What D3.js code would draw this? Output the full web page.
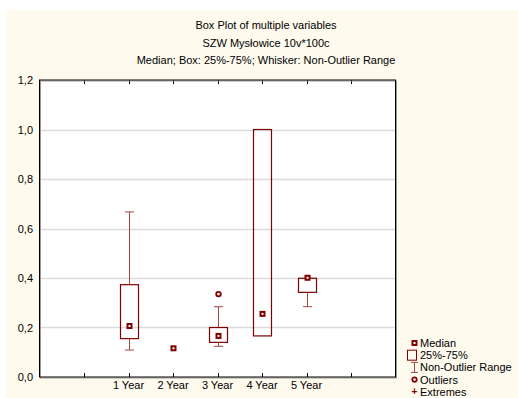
<!DOCTYPE html>
<html>
<head>
<meta charset="utf-8">
<script src="https://cdn.jsdelivr.net/npm/d3@7"></script>
<style>
  body { margin: 0; background: #fff; }
  svg { display: block; }
  text { font-family: "Liberation Sans", Arial, sans-serif; fill: #000; }
</style>
</head>
<body>
<div id="chart"></div>
<script>
const categories = ["1 Year", "2 Year", "3 Year", "4 Year", "5 Year"];
const medians = [0.206, 0.116, 0.166, 0.255, 0.401];
const q1 = [0.155, 0.116, 0.140, 0.166, 0.342];
const q3 = [0.373, 0.116, 0.200, 1.000, 0.399];
const whiskerLow = [0.109, 0.116, 0.124, 0.166, 0.284];
const whiskerHigh = [0.667, 0.116, 0.284, 1.000, 0.399];
const outliers = [[], [], [0.335], [], []];
const yTicks = [0, 0.2, 0.4, 0.6, 0.8, 1.0, 1.2];
const titles = ["Box Plot of multiple variables", "SZW Mysłowice 10v*100c",
                "Median; Box: 25%-75%; Whisker: Non-Outlier Range"];
const legendItems = ["Median", "25%-75%", "Non-Outlier Range", "Outliers", "Extremes"];

const width = 518, height = 398;
const red = "#800000";
const margin = { top: 80, left: 39.5, right: 395.5, bottom: 377 };

const svg = d3.select("#chart").append("svg")
    .attr("width", width)
    .attr("height", height);

// cream background
svg.append("rect")
    .attr("x", 6).attr("y", 10)
    .attr("width", width - 6).attr("height", height - 10)
    .attr("fill", "#fefaee");

svg.append("rect")
    .attr("x", margin.left).attr("y", margin.top)
    .attr("width", margin.right - margin.left)
    .attr("height", margin.bottom - margin.top)
    .attr("fill", "#fff");

// titles
svg.selectAll(".title")
    .data(titles)
    .enter()
    .append("text")
    .attr("class", "title")
    .attr("x", 266)
    .attr("y", (d, i) => 29 + i * 17.5)
    .attr("text-anchor", "middle")
    .attr("font-size", "11px")
    .text(d => d);

const x = d3.scaleLinear().domain([0, 8]).range([margin.left, margin.right]);
const y = d3.scaleLinear().domain([0, 1.2]).range([margin.bottom, margin.top]);
const fmt = v => d3.format(".1f")(v).replace(".", ",");

// grid
svg.selectAll(".grid")
    .data(yTicks.slice(1, -1))
    .enter()
    .append("line")
    .attr("x1", margin.left).attr("x2", margin.right)
    .attr("y1", d => Math.round(y(d)) + 0.5)
    .attr("y2", d => Math.round(y(d)) + 0.5)
    .attr("stroke", "#dcdcdc")
    .attr("stroke-width", 1.5);

// y labels
svg.selectAll(".ylab")
    .data(yTicks)
    .enter()
    .append("text")
    .attr("x", 33)
    .attr("y", d => y(d) + 4)
    .attr("text-anchor", "end")
    .attr("font-size", "11px")
    .text(d => fmt(d));

// x ticks top and bottom, inside
const xTicks = d3.range(1, 8);
svg.selectAll(".xtb")
    .data(xTicks)
    .enter()
    .append("line")
    .attr("x1", d => Math.round(x(d)) + 0.5)
    .attr("x2", d => Math.round(x(d)) + 0.5)
    .attr("y1", margin.bottom)
    .attr("y2", margin.bottom - 4)
    .attr("stroke", "#000");
svg.selectAll(".xtt")
    .data(xTicks)
    .enter()
    .append("line")
    .attr("x1", d => Math.round(x(d)) + 0.5)
    .attr("x2", d => Math.round(x(d)) + 0.5)
    .attr("y1", margin.top)
    .attr("y2", margin.top + 4)
    .attr("stroke", "#000");

svg.selectAll(".xlab")
    .data(categories)
    .enter()
    .append("text")
    .attr("x", (d, i) => x(i + 2))
    .attr("y", 389)
    .attr("text-anchor", "middle")
    .attr("font-size", "11px")
    .text(d => d);

// frame with slight shadow
svg.append("rect")
    .attr("x", margin.left + 1).attr("y", margin.top + 1)
    .attr("width", margin.right - margin.left)
    .attr("height", margin.bottom - margin.top)
    .attr("fill", "none")
    .attr("stroke", "#999");
svg.append("rect")
    .attr("x", margin.left).attr("y", margin.top)
    .attr("width", margin.right - margin.left)
    .attr("height", margin.bottom - margin.top)
    .attr("fill", "none")
    .attr("stroke", "#000");

// boxes
const boxW = 18, capW = 9;
const g = svg.append("g");
categories.forEach((c, i) => {
    const cx = Math.round(x(i + 2)) + 0.5;
    if (whiskerHigh[i] > q3[i]) {
        g.append("line").attr("x1", cx).attr("x2", cx)
            .attr("y1", y(q3[i])).attr("y2", y(whiskerHigh[i]))
            .attr("stroke", "#a34545");
        g.append("line").attr("x1", cx - capW / 2).attr("x2", cx + capW / 2)
            .attr("y1", y(whiskerHigh[i])).attr("y2", y(whiskerHigh[i]))
            .attr("stroke", "#a34545");
    }
    if (whiskerLow[i] < q1[i]) {
        g.append("line").attr("x1", cx).attr("x2", cx)
            .attr("y1", y(q1[i])).attr("y2", y(whiskerLow[i]))
            .attr("stroke", "#a34545");
        g.append("line").attr("x1", cx - capW / 2).attr("x2", cx + capW / 2)
            .attr("y1", y(whiskerLow[i])).attr("y2", y(whiskerLow[i]))
            .attr("stroke", "#a34545");
    }
    if (q3[i] > q1[i]) {
        g.append("rect")
            .attr("x", cx - boxW / 2)
            .attr("y", y(q3[i]))
            .attr("width", boxW)
            .attr("height", y(q1[i]) - y(q3[i]))
            .attr("fill", "none")
            .attr("stroke", red)
            .attr("stroke-width", 1.2);
    }
    g.append("rect")
        .attr("x", cx - 2)
        .attr("y", y(medians[i]) - 2)
        .attr("width", 4).attr("height", 4)
        .attr("fill", "#fff")
        .attr("stroke", red)
        .attr("stroke-width", 2);
    outliers[i].forEach(v => {
        g.append("circle")
            .attr("cx", cx).attr("cy", y(v))
            .attr("r", 2.3)
            .attr("fill", "#fff")
            .attr("stroke", red)
            .attr("stroke-width", 1.8);
    });
});

// legend
const lx = 412, ly = 343, ls = 12.2;
const leg = svg.append("g");
leg.selectAll("text")
    .data(legendItems)
    .enter()
    .append("text")
    .attr("x", lx + 8)
    .attr("y", (d, i) => ly + i * ls + 4)
    .attr("font-size", "11px")
    .text(d => d);
leg.append("rect").attr("x", lx + 0.5).attr("y", ly - 2).attr("width", 4).attr("height", 4)
    .attr("fill", "#fff").attr("stroke", red).attr("stroke-width", 2);
leg.append("rect").attr("x", lx - 4.5).attr("y", ly + ls - 5).attr("width", 9).attr("height", 10)
    .attr("fill", "none").attr("stroke", red);
const ry = ly + 2 * ls;
leg.append("line").attr("x1", lx + 2.5).attr("x2", lx + 2.5).attr("y1", ry - 5).attr("y2", ry + 5).attr("stroke", "#a34545");
leg.append("line").attr("x1", lx - 1).attr("x2", lx + 6).attr("y1", ry - 5).attr("y2", ry - 5).attr("stroke", "#a34545");
leg.append("line").attr("x1", lx - 1).attr("x2", lx + 6).attr("y1", ry + 5).attr("y2", ry + 5).attr("stroke", "#a34545");
leg.append("circle").attr("cx", lx + 2.5).attr("cy", ly + 3 * ls).attr("r", 2.2)
    .attr("fill", "#fff").attr("stroke", red).attr("stroke-width", 1.8);
leg.append("text").attr("x", lx + 2.5).attr("y", ly + 4 * ls + 3.5)
    .attr("text-anchor", "middle").attr("font-size", "10px").attr("font-weight", "bold")
    .style("fill", red).text("+");
</script>
</body>
</html>
